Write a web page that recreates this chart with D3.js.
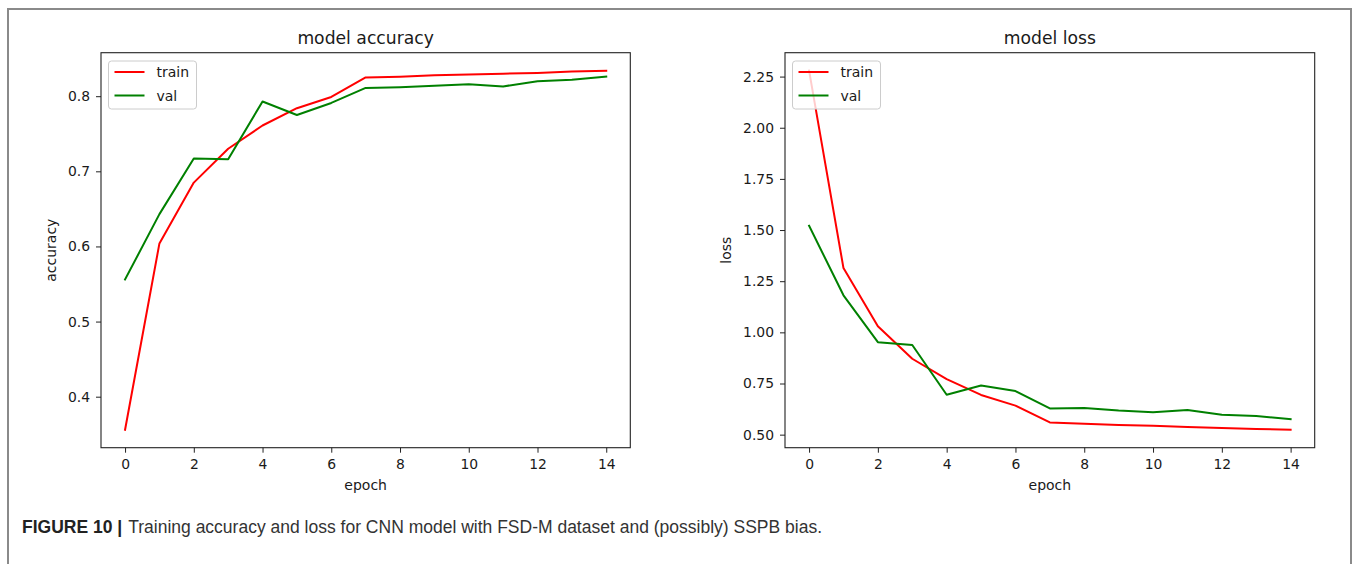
<!DOCTYPE html>
<html><head><meta charset="utf-8">
<script src="https://cdn.jsdelivr.net/npm/d3@7"></script>
<style>body{margin:0;background:#fff}svg{display:block}</style>
</head><body><svg id="c" width="1357" height="564"></svg>
<script>
// ---- data ----
const epochs = [0,1,2,3,4,5,6,7,8,9,10,11,12,13,14];
const accTrain = [0.356,0.604,0.685,0.730,0.761,0.784,0.799,0.825,0.826,0.828,0.829,0.830,0.831,0.833,0.834];
const accVal   = [0.556,0.643,0.717,0.716,0.793,0.775,0.791,0.811,0.812,0.814,0.816,0.813,0.820,0.822,0.826];
const lossTrain = [2.279,1.314,1.030,0.871,0.771,0.694,0.642,0.560,0.553,0.547,0.543,0.538,0.533,0.528,0.524];
const lossVal   = [1.521,1.181,0.952,0.938,0.695,0.740,0.713,0.628,0.630,0.618,0.610,0.621,0.597,0.591,0.576];
const xTicks = [0,2,4,6,8,10,12,14];
const accTicks = [0.4,0.5,0.6,0.7,0.8];
const lossTicks = [0.50,0.75,1.00,1.25,1.50,1.75,2.00,2.25];
const legendLabels = ["train","val"];
const seriesColors = ["#ff0000","#008000"];
const titles = ["model accuracy","model loss"];
const yLabels = ["accuracy","loss"];
const xLabel = "epoch";
const captionBold = "FIGURE 10 |";
const captionText = "Training accuracy and loss for CNN model with FSD-M dataset and (possibly) SSPB bias.";

const svg = d3.select("#c");
const FONT = "'DejaVu Sans', sans-serif";
const TXT = "#1a1a1a";

// outer frame
svg.append("rect").attr("x",8).attr("y",9).attr("width",1343).attr("height",620)
  .attr("fill","none").attr("stroke","#8a8a8a").attr("stroke-width",2);

function panel(cfg){
  const top = 52.7, bottom = 447.7;
  const x = d3.scaleLinear().domain([-0.7,14.7]).range([cfg.left,cfg.right]);
  const all = cfg.series.flat();
  const lo = d3.min(all), hi = d3.max(all), pad = (hi-lo)*0.05;
  const y = d3.scaleLinear().domain([lo-pad,hi+pad]).range([bottom,top]);
  const g = svg.append("g");

  // lines
  const line = d3.line().x((d,i)=>x(epochs[i])).y(d=>y(d));
  cfg.series.forEach((s,k)=>{
    g.append("path").attr("d",line(s)).attr("fill","none")
      .attr("stroke",seriesColors[k]).attr("stroke-width",2)
      .attr("stroke-linejoin","round").attr("stroke-linecap","square");
  });

  // axes
  const xa = g.append("g").attr("transform",`translate(0,${bottom})`)
    .call(d3.axisBottom(x).tickValues(xTicks).tickSize(5).tickPadding(6).tickFormat(d3.format("d")));
  const ya = g.append("g").attr("transform",`translate(${cfg.left},0)`)
    .call(d3.axisLeft(y).tickValues(cfg.ticks).tickSize(5).tickPadding(6).tickFormat(d3.format(cfg.fmt)));
  [xa,ya].forEach(a=>{
    a.select(".domain").remove();
    a.selectAll("line").attr("stroke","#222").attr("stroke-width",1);
    a.selectAll("text").attr("font-family",FONT).attr("font-size",13.9).attr("fill",TXT);
  });
  // spines
  g.append("rect").attr("x",cfg.left).attr("y",top)
    .attr("width",cfg.right-cfg.left).attr("height",bottom-top)
    .attr("fill","none").attr("stroke","#222").attr("stroke-width",1.1);

  // title
  g.append("text").attr("x",(cfg.left+cfg.right)/2).attr("y",44)
    .attr("text-anchor","middle").attr("font-family",FONT).attr("font-size",17.2)
    .attr("fill",TXT).text(cfg.title);
  // x label
  g.append("text").attr("x",(cfg.left+cfg.right)/2).attr("y",490)
    .attr("text-anchor","middle").attr("font-family",FONT).attr("font-size",14)
    .attr("fill",TXT).text(xLabel);
  // y label
  g.append("text").attr("transform",`translate(${cfg.ylx},${(top+bottom)/2}) rotate(-90)`)
    .attr("text-anchor","middle").attr("font-family",FONT).attr("font-size",14)
    .attr("fill",TXT).text(cfg.ylabel);

  // legend
  const lx = cfg.left+7.5, ly = 61;
  const lg = g.append("g");
  lg.append("rect").attr("x",lx).attr("y",ly).attr("width",88).attr("height",48)
    .attr("rx",3).attr("fill","#fff").attr("fill-opacity",0.8)
    .attr("stroke","#cccccc").attr("stroke-width",1);
  legendLabels.forEach((lab,k)=>{
    const yy = ly + 11 + k*23.5;
    lg.append("line").attr("x1",lx+6).attr("x2",lx+36).attr("y1",yy).attr("y2",yy)
      .attr("stroke",seriesColors[k]).attr("stroke-width",2);
    lg.append("text").attr("x",lx+48).attr("y",yy+5).attr("font-family",FONT)
      .attr("font-size",14).attr("fill",TXT).text(lab);
  });
}

panel({left:101, right:630.3, series:[accTrain,accVal], ticks:accTicks, fmt:".1f",
       title:titles[0], ylabel:yLabels[0], ylx:56});
panel({left:785, right:1314.7, series:[lossTrain,lossVal], ticks:lossTicks, fmt:".2f",
       title:titles[1], ylabel:yLabels[1], ylx:731});

// caption
const cap = svg.append("text").attr("x",22).attr("y",533)
  .attr("font-family","'Liberation Sans', Arial, sans-serif").attr("font-size",17.5).attr("fill","#333");
cap.append("tspan").attr("font-weight","bold").attr("fill","#222").text(captionBold);
cap.append("tspan").attr("dx",6).text(captionText);
</script></body></html>
